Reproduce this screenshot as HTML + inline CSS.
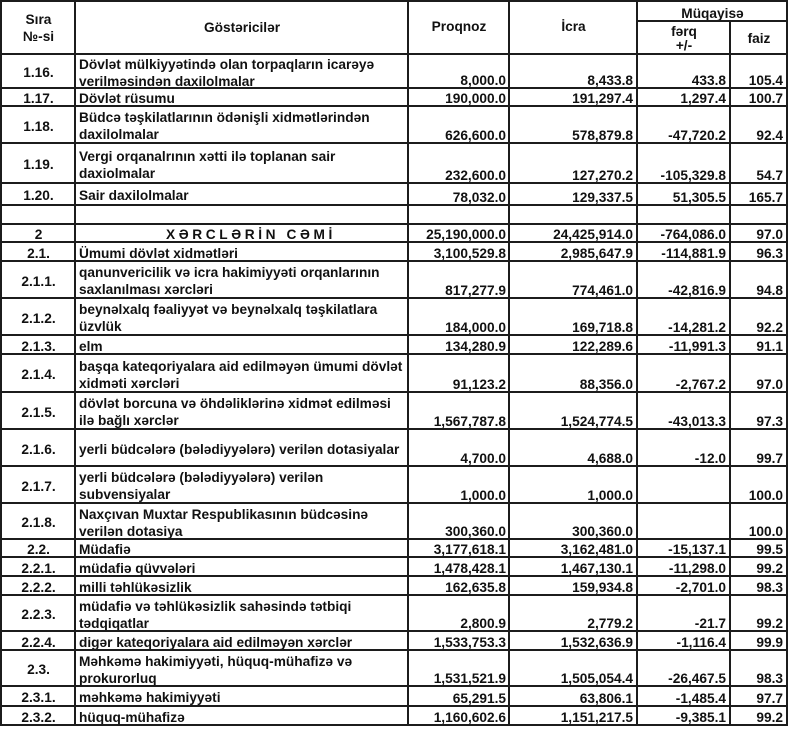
<!DOCTYPE html>
<html><head><meta charset="utf-8">
<style>
html,body{margin:0;padding:0;background:#fff;}
body{width:800px;height:733px;position:relative;overflow:hidden;font-family:"Liberation Sans",Arial,sans-serif;font-weight:bold;font-size:13.7px;color:#111;}
.l{position:absolute;background:#1c1c1c;}
.r{position:absolute;left:0;width:788px;}
.c{position:absolute;top:0;bottom:0;display:flex;white-space:nowrap;line-height:17px;box-sizing:border-box;}
.s{left:2px;width:73px;justify-content:center;align-items:center;padding-top:3px;}
.t{left:79px;width:326px;align-items:center;padding-top:3px;}
.n{justify-content:flex-end;align-items:flex-end;bottom:-0.5px;}
.n2{left:410px;width:96px;}
.n3{left:511px;width:122px;}
.n4{left:639px;width:87px;}
.n5{left:732px;width:51px;}
.h{position:absolute;display:flex;justify-content:center;align-items:center;text-align:center;white-space:nowrap;}
</style></head><body>

<!-- header -->
<div class="h" style="left:2px;top:2px;width:73px;height:52px;line-height:17px;">Sıra<br>№-si</div>
<div class="h" style="left:76px;top:1px;width:332px;height:52px;">Göstəricilər</div>
<div class="h" style="left:409px;top:1px;width:100px;height:50px;">Proqnoz</div>
<div class="h" style="left:510px;top:1px;width:127px;height:50px;">İcra</div>
<div class="h" style="left:638px;top:4px;width:149px;height:19px;">Müqayisə</div>
<div class="h" style="left:638px;top:23px;width:92px;height:32px;line-height:14px;">fərq<br>+/-</div>
<div class="h" style="left:731px;top:22px;width:56px;height:32px;">faiz</div>

<!-- rows -->
<div class="r" style="top:54px;height:34px;"><div class="c s">1.16.</div><div class="c t">Dövlət mülkiyyətində olan torpaqların icarəyə<br>verilməsindən daxilolmalar</div><div class="c n n2">8,000.0</div><div class="c n n3">8,433.8</div><div class="c n n4">433.8</div><div class="c n n5">105.4</div></div>
<div class="r" style="top:88px;height:18px;"><div class="c s">1.17.</div><div class="c t">Dövlət rüsumu</div><div class="c n n2">190,000.0</div><div class="c n n3">191,297.4</div><div class="c n n4">1,297.4</div><div class="c n n5">100.7</div></div>
<div class="r" style="top:106px;height:37px;"><div class="c s">1.18.</div><div class="c t">Büdcə təşkilatlarının ödənişli xidmətlərindən<br>daxilolmalar</div><div class="c n n2">626,600.0</div><div class="c n n3">578,879.8</div><div class="c n n4">-47,720.2</div><div class="c n n5">92.4</div></div>
<div class="r" style="top:143px;height:40px;"><div class="c s">1.19.</div><div class="c t">Vergi orqanalrının xətti ilə toplanan sair<br>daxiolmalar</div><div class="c n n2">232,600.0</div><div class="c n n3">127,270.2</div><div class="c n n4">-105,329.8</div><div class="c n n5">54.7</div></div>
<div class="r" style="top:183px;height:22px;"><div class="c s">1.20.</div><div class="c t">Sair daxilolmalar</div><div class="c n n2">78,032.0</div><div class="c n n3">129,337.5</div><div class="c n n4">51,305.5</div><div class="c n n5">165.7</div></div>
<div class="r" style="top:224px;height:18px;"><div class="c s">2</div><div class="c t" style="left:76px;width:332px;justify-content:center;letter-spacing:3.6px;padding-left:18px;">XƏRCLƏRİN CƏMİ</div><div class="c n n2">25,190,000.0</div><div class="c n n3">24,425,914.0</div><div class="c n n4">-764,086.0</div><div class="c n n5">97.0</div></div>
<div class="r" style="top:242px;height:19px;"><div class="c s">2.1.</div><div class="c t">Ümumi dövlət xidmətləri</div><div class="c n n2">3,100,529.8</div><div class="c n n3">2,985,647.9</div><div class="c n n4">-114,881.9</div><div class="c n n5">96.3</div></div>
<div class="r" style="top:261px;height:37px;"><div class="c s">2.1.1.</div><div class="c t">qanunvericilik və icra hakimiyyəti orqanlarının<br>saxlanılması xərcləri</div><div class="c n n2">817,277.9</div><div class="c n n3">774,461.0</div><div class="c n n4">-42,816.9</div><div class="c n n5">94.8</div></div>
<div class="r" style="top:298px;height:37px;"><div class="c s">2.1.2.</div><div class="c t">beynəlxalq fəaliyyət və beynəlxalq təşkilatlara<br>üzvlük</div><div class="c n n2">184,000.0</div><div class="c n n3">169,718.8</div><div class="c n n4">-14,281.2</div><div class="c n n5">92.2</div></div>
<div class="r" style="top:335px;height:19px;"><div class="c s">2.1.3.</div><div class="c t">elm</div><div class="c n n2">134,280.9</div><div class="c n n3">122,289.6</div><div class="c n n4">-11,991.3</div><div class="c n n5">91.1</div></div>
<div class="r" style="top:354px;height:38px;"><div class="c s">2.1.4.</div><div class="c t">başqa kateqoriyalara aid edilməyən ümumi dövlət<br>xidməti xərcləri</div><div class="c n n2">91,123.2</div><div class="c n n3">88,356.0</div><div class="c n n4">-2,767.2</div><div class="c n n5">97.0</div></div>
<div class="r" style="top:392px;height:37px;"><div class="c s">2.1.5.</div><div class="c t">dövlət borcuna və öhdəliklərinə xidmət edilməsi<br>ilə bağlı xərclər</div><div class="c n n2">1,567,787.8</div><div class="c n n3">1,524,774.5</div><div class="c n n4">-43,013.3</div><div class="c n n5">97.3</div></div>
<div class="r" style="top:429px;height:37px;"><div class="c s">2.1.6.</div><div class="c t">yerli büdcələrə (bələdiyyələrə) verilən dotasiyalar</div><div class="c n n2">4,700.0</div><div class="c n n3">4,688.0</div><div class="c n n4">-12.0</div><div class="c n n5">99.7</div></div>
<div class="r" style="top:466px;height:37px;"><div class="c s">2.1.7.</div><div class="c t">yerli büdcələrə (bələdiyyələrə) verilən<br>subvensiyalar</div><div class="c n n2">1,000.0</div><div class="c n n3">1,000.0</div><div class="c n n4"></div><div class="c n n5">100.0</div></div>
<div class="r" style="top:503px;height:36px;"><div class="c s">2.1.8.</div><div class="c t">Naxçıvan Muxtar Respublikasının büdcəsinə<br>verilən dotasiya</div><div class="c n n2">300,360.0</div><div class="c n n3">300,360.0</div><div class="c n n4"></div><div class="c n n5">100.0</div></div>
<div class="r" style="top:539px;height:18px;"><div class="c s">2.2.</div><div class="c t">Müdafiə</div><div class="c n n2">3,177,618.1</div><div class="c n n3">3,162,481.0</div><div class="c n n4">-15,137.1</div><div class="c n n5">99.5</div></div>
<div class="r" style="top:557px;height:19px;"><div class="c s">2.2.1.</div><div class="c t">müdafiə qüvvələri</div><div class="c n n2">1,478,428.1</div><div class="c n n3">1,467,130.1</div><div class="c n n4">-11,298.0</div><div class="c n n5">99.2</div></div>
<div class="r" style="top:576px;height:19px;"><div class="c s">2.2.2.</div><div class="c t">milli təhlükəsizlik</div><div class="c n n2">162,635.8</div><div class="c n n3">159,934.8</div><div class="c n n4">-2,701.0</div><div class="c n n5">98.3</div></div>
<div class="r" style="top:595px;height:36px;"><div class="c s">2.2.3.</div><div class="c t">müdafiə və təhlükəsizlik sahəsində tətbiqi<br>tədqiqatlar</div><div class="c n n2">2,800.9</div><div class="c n n3">2,779.2</div><div class="c n n4">-21.7</div><div class="c n n5">99.2</div></div>
<div class="r" style="top:631px;height:19px;"><div class="c s">2.2.4.</div><div class="c t">digər kateqoriyalara aid edilməyən xərclər</div><div class="c n n2">1,533,753.3</div><div class="c n n3">1,532,636.9</div><div class="c n n4">-1,116.4</div><div class="c n n5">99.9</div></div>
<div class="r" style="top:650px;height:36px;"><div class="c s">2.3.</div><div class="c t">Məhkəmə hakimiyyəti, hüquq-mühafizə və<br>prokurorluq</div><div class="c n n2">1,531,521.9</div><div class="c n n3">1,505,054.4</div><div class="c n n4">-26,467.5</div><div class="c n n5">98.3</div></div>
<div class="r" style="top:686px;height:20px;"><div class="c s">2.3.1.</div><div class="c t">məhkəmə hakimiyyəti</div><div class="c n n2">65,291.5</div><div class="c n n3">63,806.1</div><div class="c n n4">-1,485.4</div><div class="c n n5">97.7</div></div>
<div class="r" style="top:706px;height:19px;"><div class="c s">2.3.2.</div><div class="c t">hüquq-mühafizə</div><div class="c n n2">1,160,602.6</div><div class="c n n3">1,151,217.5</div><div class="c n n4">-9,385.1</div><div class="c n n5">99.2</div></div>

<!-- vertical lines -->
<div class="l" style="left:0;top:0;width:2px;height:726px;"></div>
<div class="l" style="left:74px;top:0;width:2px;height:726px;"></div>
<div class="l" style="left:407px;top:0;width:2px;height:726px;"></div>
<div class="l" style="left:508px;top:0;width:2px;height:726px;"></div>
<div class="l" style="left:636px;top:0;width:2px;height:726px;"></div>
<div class="l" style="left:729px;top:21px;width:2px;height:705px;"></div>
<div class="l" style="left:786px;top:0;width:2px;height:726px;"></div>

<!-- horizontal lines -->
<div class="l" style="left:0;top:0;width:788px;height:2px;"></div>
<div class="l" style="left:636px;top:20px;width:152px;height:2px;"></div>
<div class="l" style="left:0;top:53px;width:788px;height:2px;"></div>
<div class="l" style="left:0;top:87px;width:788px;height:2px;"></div>
<div class="l" style="left:0;top:105px;width:788px;height:2px;"></div>
<div class="l" style="left:0;top:142px;width:788px;height:2px;"></div>
<div class="l" style="left:0;top:182px;width:788px;height:2px;"></div>
<div class="l" style="left:0;top:204px;width:788px;height:2px;"></div>
<div class="l" style="left:0;top:223px;width:788px;height:2px;"></div>
<div class="l" style="left:0;top:241px;width:788px;height:2px;"></div>
<div class="l" style="left:0;top:260px;width:788px;height:2px;"></div>
<div class="l" style="left:0;top:297px;width:788px;height:2px;"></div>
<div class="l" style="left:0;top:334px;width:788px;height:2px;"></div>
<div class="l" style="left:0;top:353px;width:788px;height:2px;"></div>
<div class="l" style="left:0;top:391px;width:788px;height:2px;"></div>
<div class="l" style="left:0;top:428px;width:788px;height:2px;"></div>
<div class="l" style="left:0;top:465px;width:788px;height:2px;"></div>
<div class="l" style="left:0;top:502px;width:788px;height:2px;"></div>
<div class="l" style="left:0;top:538px;width:788px;height:2px;"></div>
<div class="l" style="left:0;top:556px;width:788px;height:2px;"></div>
<div class="l" style="left:0;top:575px;width:788px;height:2px;"></div>
<div class="l" style="left:0;top:594px;width:788px;height:2px;"></div>
<div class="l" style="left:0;top:630px;width:788px;height:2px;"></div>
<div class="l" style="left:0;top:649px;width:788px;height:2px;"></div>
<div class="l" style="left:0;top:685px;width:788px;height:2px;"></div>
<div class="l" style="left:0;top:705px;width:788px;height:2px;"></div>
<div class="l" style="left:0;top:724px;width:788px;height:2px;"></div>

</body></html>
